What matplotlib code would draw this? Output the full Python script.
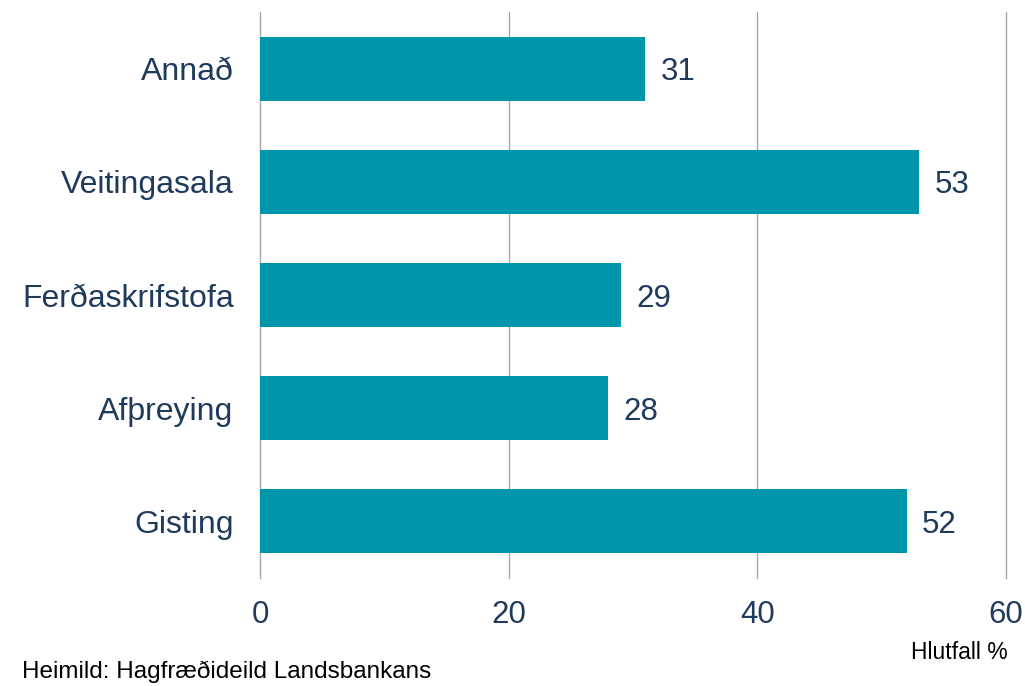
import matplotlib.pyplot as plt

plt.rcParams['font.family'] = ['Liberation Sans', 'DejaVu Sans']

# gögn
flokkar = ['Gisting', 'Afþreying', 'Ferðaskrifstofa', 'Veitingasala', 'Annað']
gildi = [52, 28, 29, 53, 31]
x_ticks = [0, 20, 40, 60]

bar_color = '#0096A9'
text_color = '#1F3A5A'

fig = plt.figure(figsize=(10.25, 6.86), dpi=100)
ax = fig.add_axes([0.2537, 0.1574, 0.7278, 0.8251])

ax.barh(range(len(flokkar)), gildi, height=0.565, color=bar_color, zorder=3)

for i, v in enumerate(gildi):
    ax.annotate(str(v), (v, i), xytext=(11, 0), textcoords='offset points',
                va='center_baseline', ha='left', fontsize=22.5, color=text_color)

ax.set_xlim(0, 60)
ax.set_ylim(-0.5, len(flokkar) - 0.5)
ax.set_xticks(x_ticks)
ax.set_yticks(range(len(flokkar)))
ax.set_yticklabels(flokkar)
ax.tick_params(axis='x', length=0, pad=16, labelsize=22.5, labelcolor=text_color)
ax.tick_params(axis='y', length=0, pad=19, labelsize=23, labelcolor=text_color)

ax.grid(axis='x', color='#A6A6A6', linewidth=1, zorder=0)
for gl in ax.get_xgridlines():
    gl.set_clip_on(False)
for s in ax.spines.values():
    s.set_visible(False)

fig.text(0.983, 0.049, 'Hlutfall %', ha='right', va='center', fontsize=16.5, color='black')
fig.text(0.021, 0.004, 'Heimild: Hagfræðideild Landsbankans', ha='left', va='bottom',
         fontsize=17.5, color='black')

fig.savefig('out.png', dpi=100)
